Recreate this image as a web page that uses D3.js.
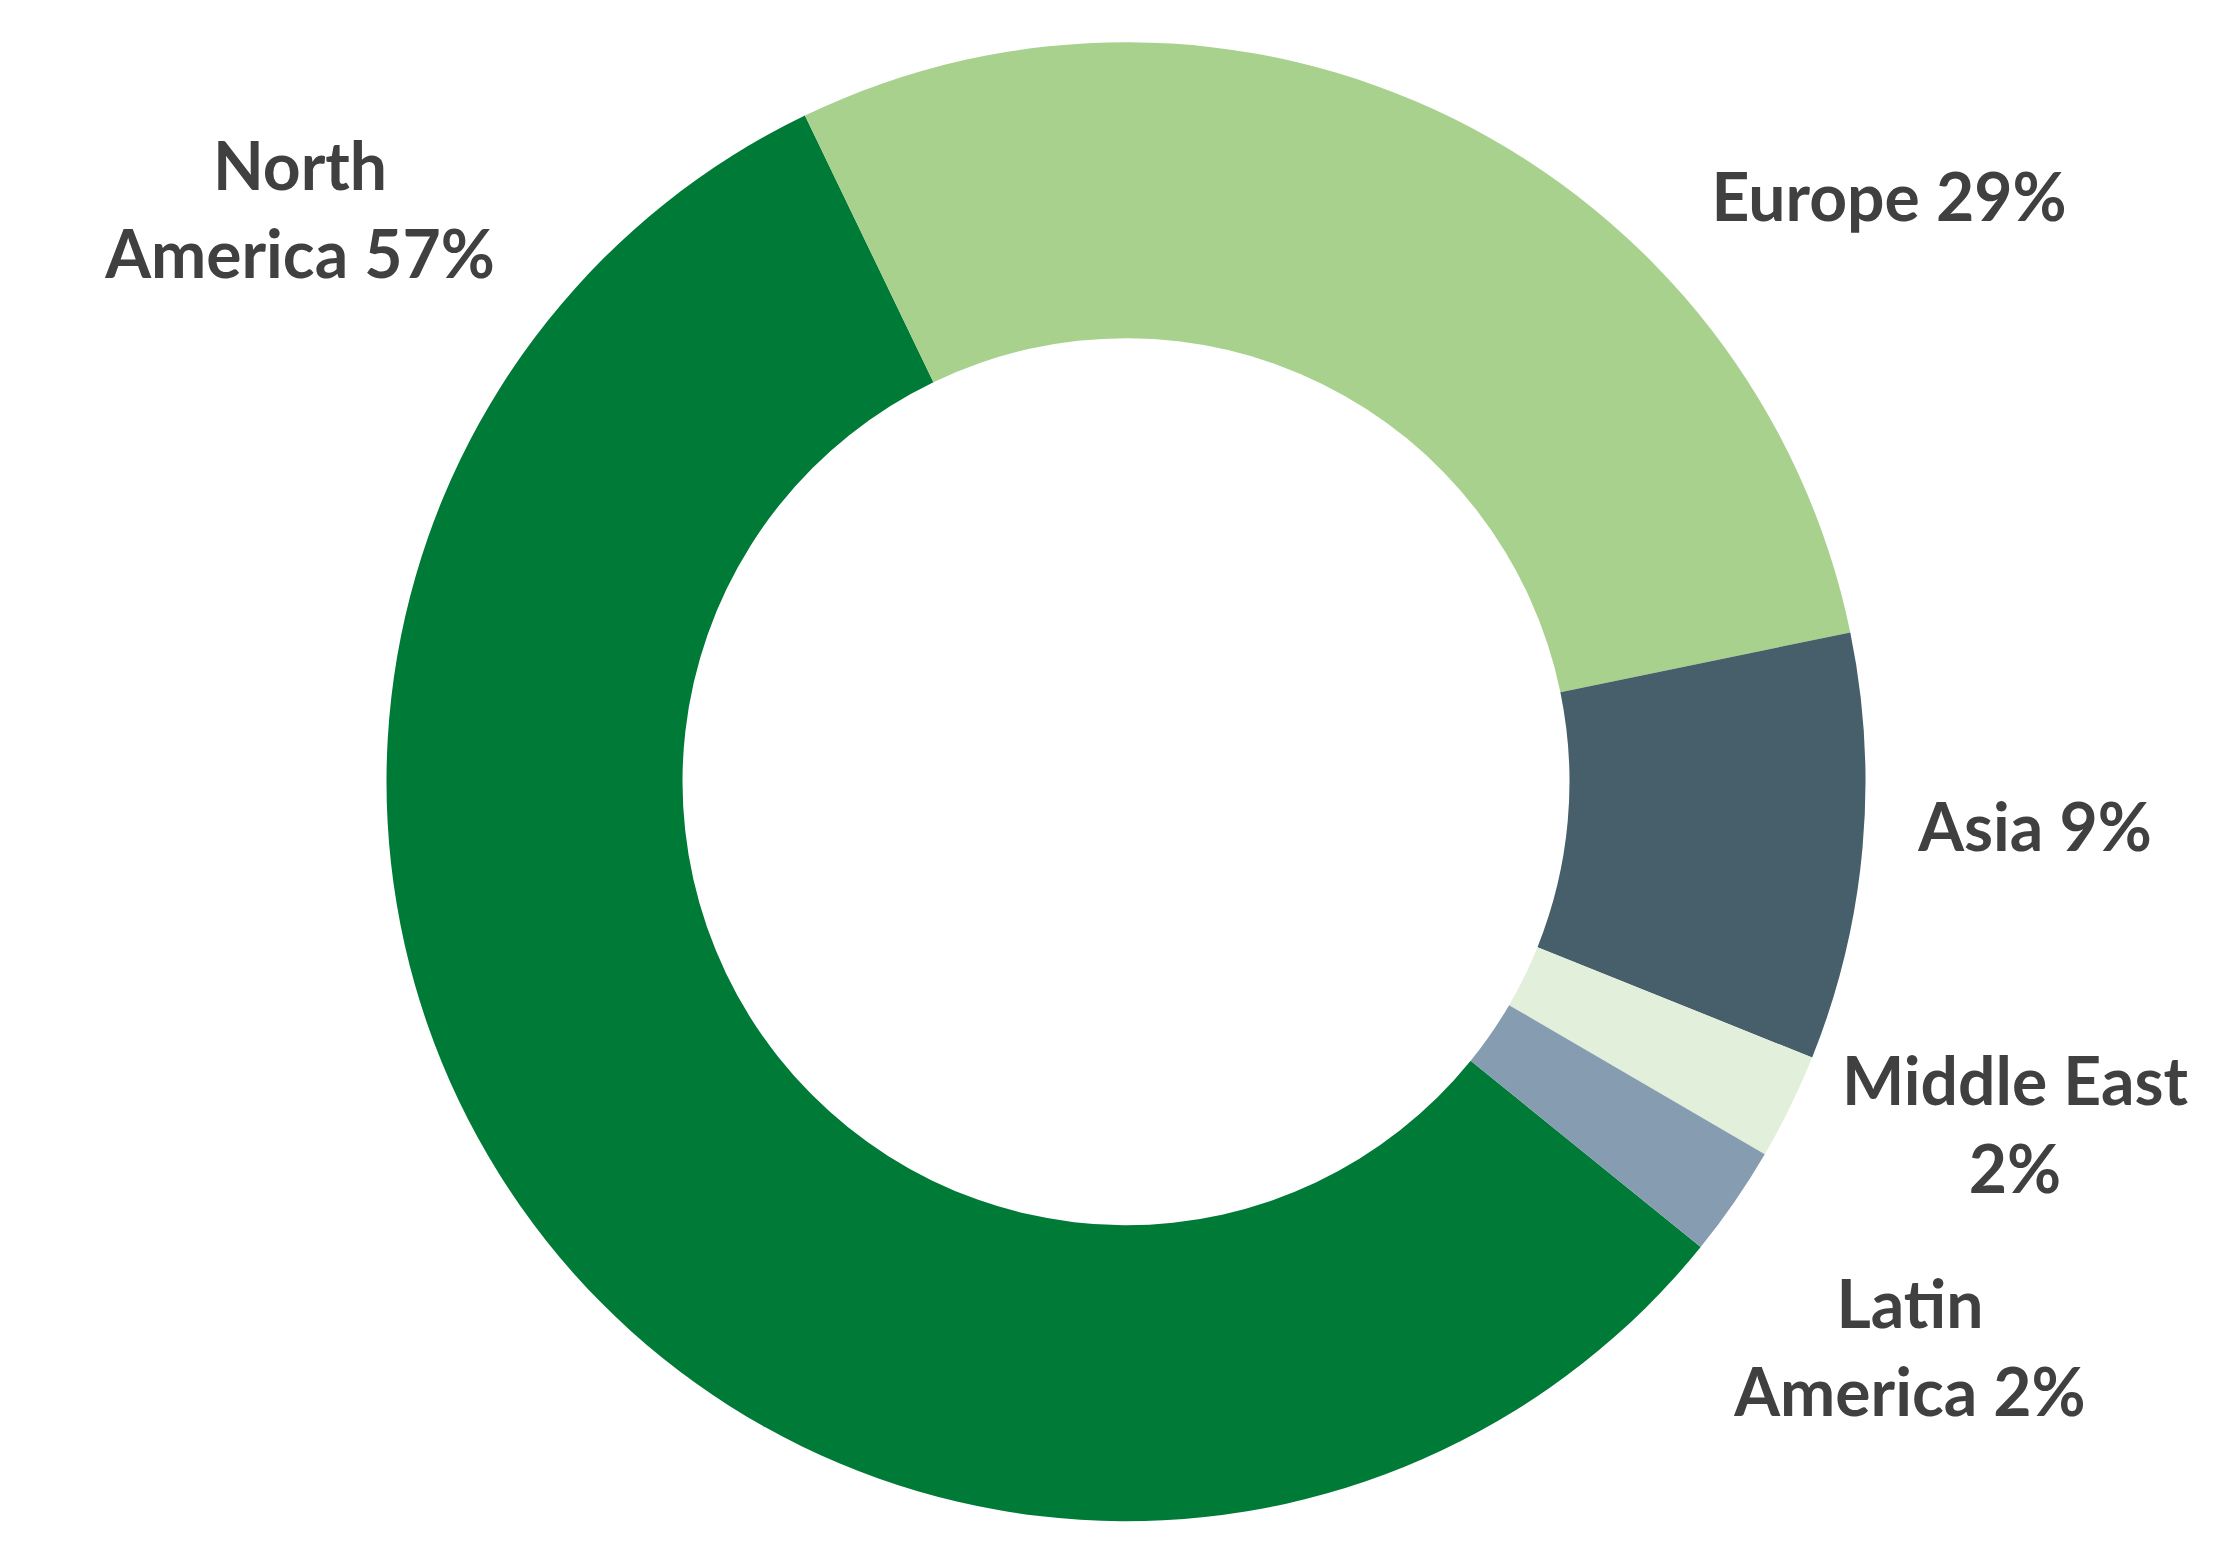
<!DOCTYPE html>
<html>
<head>
<meta charset="utf-8">
<script src="https://cdn.jsdelivr.net/npm/d3@7"></script>
<style>
  html, body { margin: 0; padding: 0; background: #ffffff; }
  svg { display: block; }
</style>
</head>
<body>
<svg id="chart" width="2223" height="1551"></svg>
<script>
// ---- data ----
const regions = ["North America", "Europe", "Asia", "Middle East", "Latin America"];
const shares = [57.03, 28.92, 9.32, 2.32, 2.43];
const labelTexts = ["57%", "29%", "9%", "2%", "2%"];
const colors = ["#007A37", "#A9D18E", "#465F6A", "#E2EFDA", "#869DB1"];
// label line breaks (layout)
const labelLines = [["North", "America 57%"], ["Europe 29%"], ["Asia 9%"], ["Middle East", "2%"], ["Latin", "America 2%"]];

// ---- layout ----
const W = 2223, H = 1551;
const cx = 1126, cy = 781.7;
const outerR = 739.5, innerR = 443.5;
const startDeg = 129.0;
const labelAnchor = [[300, 190], [1889, 221], [2035, 851], [2015, 1105], [1910, 1328]];
const lineGap = 88;
const fontSize = 66;

const svg = d3.select("#chart");
const data = regions.map((r, i) => ({ region: r, value: shares[i], color: colors[i], lines: labelLines[i], anchor: labelAnchor[i] }));

const pie = d3.pie().value(d => d.value).sort(null)
  .startAngle(startDeg * Math.PI / 180)
  .endAngle(startDeg * Math.PI / 180 + 2 * Math.PI);
const arc = d3.arc().innerRadius(innerR).outerRadius(outerR);

const g = svg.append("g").attr("transform", `translate(${cx},${cy})`);
g.selectAll("path").data(pie(data)).join("path")
  .attr("d", arc)
  .attr("fill", d => d.data.color)
  .attr("stroke", "none");

const lbl = svg.append("g")
  .attr("font-family", "Lato, 'Open Sans', sans-serif")
  .attr("font-weight", "bold")
  .attr("font-size", fontSize)
  .attr("fill", "#404040")
  .attr("text-anchor", "middle");

data.forEach(d => {
  const t = lbl.append("text").attr("x", d.anchor[0]).attr("y", d.anchor[1]);
  d.lines.forEach((line, j) => {
    t.append("tspan").attr("x", d.anchor[0]).attr("y", d.anchor[1] + j * lineGap).text(line);
  });
});
</script>
</body>
</html>
